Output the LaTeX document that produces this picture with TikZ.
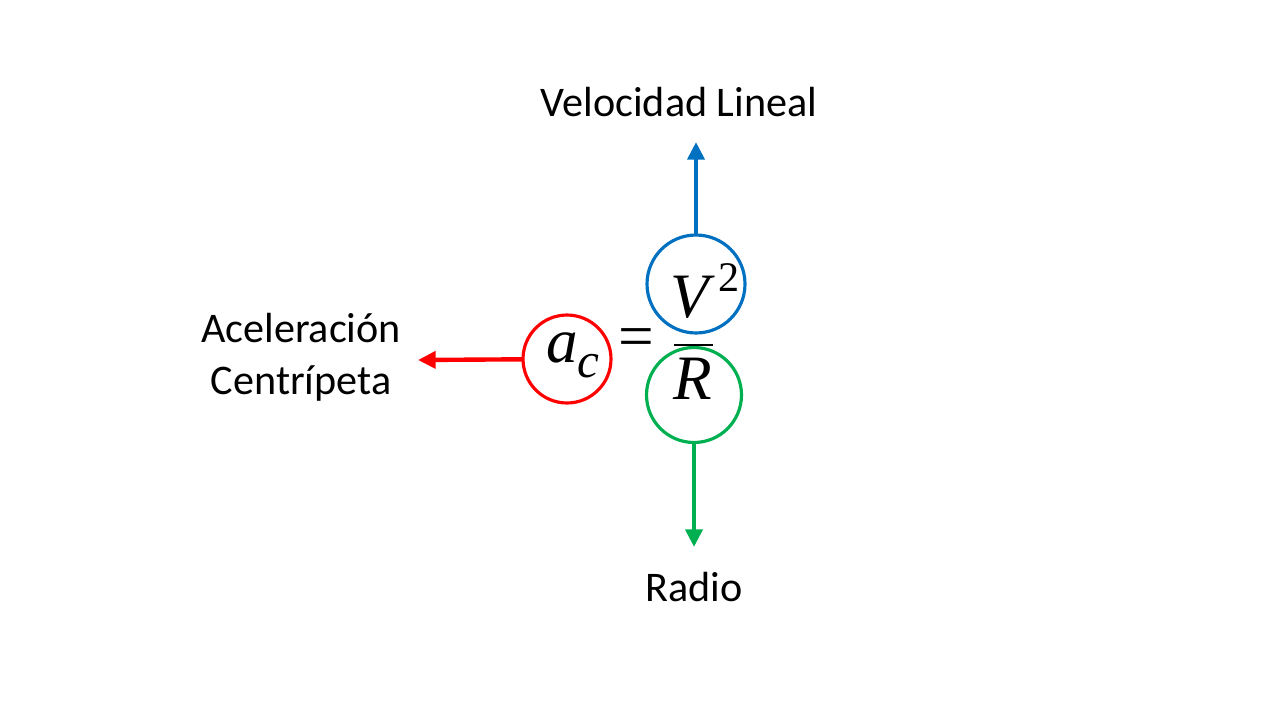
\documentclass[tikz,border=0pt]{standalone}
\usepackage{fontspec}
\setmainfont{Carlito}
\newfontfamily\formfont{Liberation Serif}
\usetikzlibrary{arrows.meta,positioning}
\definecolor{accred}{HTML}{FF0000}
\definecolor{velblue}{HTML}{0070C0}
\definecolor{radgreen}{HTML}{00B050}
\newcommand{\subfont}{\fontsize{28}{30}\selectfont}
\newcommand{\supfont}{\fontsize{24}{26}\selectfont}
\tikzset{
  ring/.style={circle, draw, line width=1.8pt, outer sep=0pt, inner sep=0pt},
  lbl/.style={font=\fontsize{24}{29.5}\selectfont, align=center, inner sep=0pt},
  mth/.style={font=\formfont\fontsize{36}{40}\selectfont, inner sep=0pt},
  pointer/.style={-{Triangle[length=10pt,width=9.5pt]}, line width=2.5pt}
}

\begin{document}
\begin{tikzpicture}[x=0.02cm, y=-0.02cm]
  \useasboundingbox (0,0) rectangle (1280,720);
  % circles
  \node[ring, draw=accred, minimum size=1.76cm] (accirc) at (567,359) {};
  \node[ring, draw=velblue, minimum size=1.96cm] (vcirc) at (696,284) {};
  \node[ring, draw=radgreen, minimum size=1.9cm] (rcirc) at (694,395) {};
  % formula
  \node[mth, anchor=base] (ac) at (573,362) {\textit{a}\raisebox{-0.25em}{\subfont\textit{c}}};
  \node[mth, anchor=base] (eq) at (636,357) {=};
  \node[mth, anchor=base] (vsq) at (705,317) {\textit{V}\kern2pt\raisebox{0.4em}{\supfont 2}};
  \node[mth, anchor=base] (rad) at (693,399) {\textit{R}};
  \coordinate (barl) at (674,345);
  \coordinate (barr) at (713,345);
  \draw[line width=1.7pt] (barl) -- (barr);
  % labels
  \node[lbl] (vlbl) at (679,102) {Velocidad Lineal};
  \node[lbl] (aclbl) at (301,357) {Aceleración\\Centrípeta};
  \node[lbl] (rlbl) at (694,587) {Radio};
  \coordinate (vtip) at (696,142);
  \coordinate (actip) at (418,360);
  \coordinate (rtip) at (694,547);
  \draw[pointer, velblue] (vcirc) -- (vtip);
  \draw[pointer, accred] (accirc) -- (actip);
  \draw[pointer, radgreen] (rcirc) -- (rtip);
\end{tikzpicture}
\end{document}
